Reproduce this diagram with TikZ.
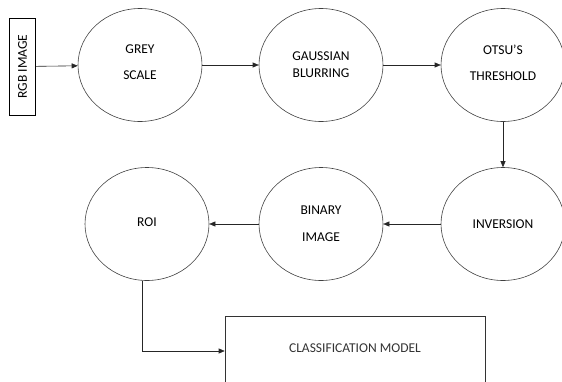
\documentclass[tikz,border=0pt]{standalone}
\usepackage{fontspec}
\setmainfont{Carlito}
\usepackage{tikz}
\usetikzlibrary{positioning,arrows.meta,shapes.geometric}

\begin{document}
\begin{tikzpicture}[
  x=1pt,y=-1pt,
  font=\fontsize{13.5}{15}\selectfont,
  line width=0.6pt,
  stage/.style={ellipse,draw=black!75,inner sep=0pt,align=center,minimum width=124pt,minimum height=113pt},
  inbox/.style={draw,black,rotate=90,minimum width=97pt,minimum height=26pt,inner sep=0pt},
  outbox/.style={draw,black!80,minimum width=260pt,minimum height=70pt,inner sep=0pt},
  arr/.style={-{Triangle[length=6pt,width=5pt]},black!85}
]
\useasboundingbox (0,0) rectangle (562,381);
\clip (0,0) rectangle (562,381);

\node[inbox] (rgb) at (22.5,66.5) {RGB IMAGE};
\node[stage] (grey) at (140,65) {\raisebox{5pt}{GREY}\\[11pt]\raisebox{5pt}{SCALE}};
\node[stage] (gauss) at (321,65) {GAUSSIAN\\[2pt]BLURRING};
\node[stage] (otsu) at (503,65) {\raisebox{5pt}{OTSU'S}\\[11pt]\raisebox{5pt}{THRESHOLD}};

\node[stage] (inv) at (503,224) {\raisebox{-3pt}{INVERSION}};
\node[stage] (bin) at (321,224) {BINARY\\[12pt]IMAGE};
\node[stage] (roi) at (147,224) {\raisebox{4pt}{ROI}};

\node[outbox] (cls) at (355,351) {\raisebox{6pt}{CLASSIFICATION MODEL}};

\draw[arr] (rgb) -- (grey);
\draw[arr] (grey) -- (gauss);
\draw[arr] (gauss) -- (otsu);
\draw[arr] (otsu) -- (inv);
\draw[arr] (inv) -- (bin);
\draw[arr] (bin) -- (roi);
\draw[arr] (roi.south -| 142,0) |- (cls.west);
\end{tikzpicture}
\end{document}
